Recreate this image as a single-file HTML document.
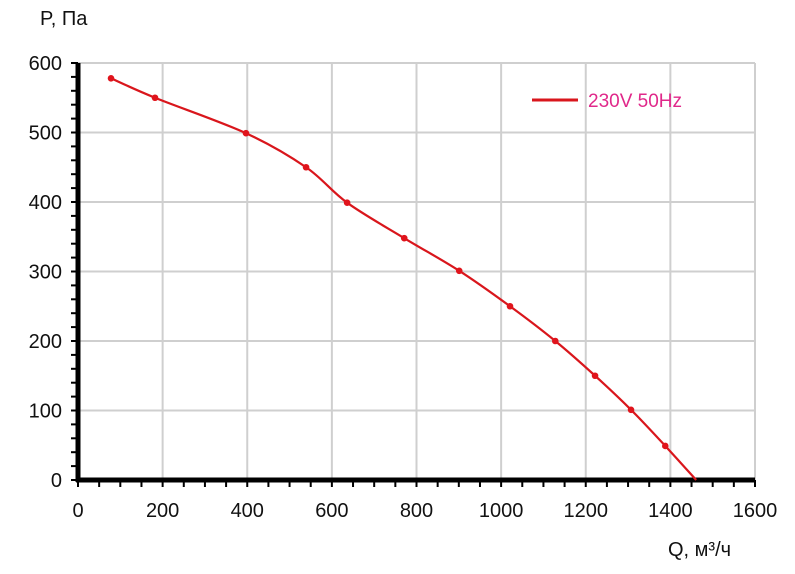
<!DOCTYPE html>
<html><head><meta charset="utf-8"><style>
body{margin:0;background:#fff;}
svg text{font-family:"Liberation Sans","DejaVu Sans",sans-serif;}
</style></head><body>
<svg width="795" height="569" viewBox="0 0 795 569">
<g id="grid"></g>
<g id="axes"></g>
<g id="series"></g>
<text x="40" y="25" font-size="20" fill="#111">P, Па</text>
<text x="668" y="556" font-size="20" fill="#111">Q, м³/ч</text>
<g>
<line x1="532" y1="100" x2="578" y2="100" stroke="#d9161c" stroke-width="3"/>
<text x="588" y="107" font-size="19" fill="#e0288a">230V 50Hz</text>
</g>
</svg>
<script>
const xTicks=[0,200,400,600,800,1000,1200,1400,1600];
const yTicks=[0,100,200,300,400,500,600];
const qValues=[78,182,397,539,636,771,901,1021,1128,1222,1307,1388,1461];
const pValues=[578,550,499,450,399,348,301,250,200,150,101,49,0];
const NS="http://www.w3.org/2000/svg";
const X0=78,X1=755,Y0=480,Y1=63;
const sx=v=>X0+(v-0)/(1600)*(X1-X0);
const sy=v=>Y0-(v/600)*(Y0-Y1);
function mk(tag,attrs,parent){const e=document.createElementNS(NS,tag);for(const k in attrs)e.setAttribute(k,attrs[k]);parent.appendChild(e);return e;}
const grid=document.getElementById('grid'),axes=document.getElementById('axes'),series=document.getElementById('series');
xTicks.forEach(t=>{if(t>0){const l=mk('line',{x1:sx(t),x2:sx(t),y1:Y1,y2:Y0,stroke:'#cfcfcf','stroke-width':2},grid);

}
const tx=mk('text',{x:sx(t),y:517,'font-size':20,'text-anchor':'middle',fill:'#111'},axes);tx.textContent=t;

});
yTicks.forEach(t=>{if(t>0){const l=mk('line',{x1:X0,x2:X1,y1:sy(t),y2:sy(t),stroke:'#cfcfcf','stroke-width':2},grid);

}
const tx=mk('text',{x:62,y:sy(t)+7,'font-size':20,'text-anchor':'end',fill:'#111'},axes);tx.textContent=t;

});
for(let v=0;v<=1600;v+=50){const l=mk('line',{x1:sx(v),x2:sx(v),y1:Y0,y2:Y0+7,stroke:'#000','stroke-width':2},axes);

}
for(let v=0;v<=600;v+=20){const l=mk('line',{x1:X0-7,x2:X0,y1:sy(v),y2:sy(v),stroke:'#000','stroke-width':2},axes);

}
const ya=mk('line',{x1:X0,x2:X0,y1:Y1,y2:Y0+2,stroke:'#000','stroke-width':5},axes);


const xa=mk('line',{x1:X0-2,x2:X1,y1:Y0,y2:Y0,stroke:'#000','stroke-width':5},axes);


const pts=qValues.map((q,i)=>[sx(q),sy(pValues[i])]);
let d='M'+pts[0][0]+','+pts[0][1];
for(let i=0;i<pts.length-1;i++){const p0=pts[Math.max(0,i-1)],p1=pts[i],p2=pts[i+1],p3=pts[Math.min(pts.length-1,i+2)];
const c1=[p1[0]+(p2[0]-p0[0])/6,p1[1]+(p2[1]-p0[1])/6],c2=[p2[0]-(p3[0]-p1[0])/6,p2[1]-(p3[1]-p1[1])/6];
d+=` C${c1[0]},${c1[1]} ${c2[0]},${c2[1]} ${p2[0]},${p2[1]}`;}
const path=mk('path',{d:d,fill:'none',stroke:'#d9161c','stroke-width':2.2},series);


pts.slice(0,-1).forEach(p=>{const c=mk('circle',{cx:p[0],cy:p[1],r:3.3,fill:'#e0141c'},series);

});
</script>
</body></html>
